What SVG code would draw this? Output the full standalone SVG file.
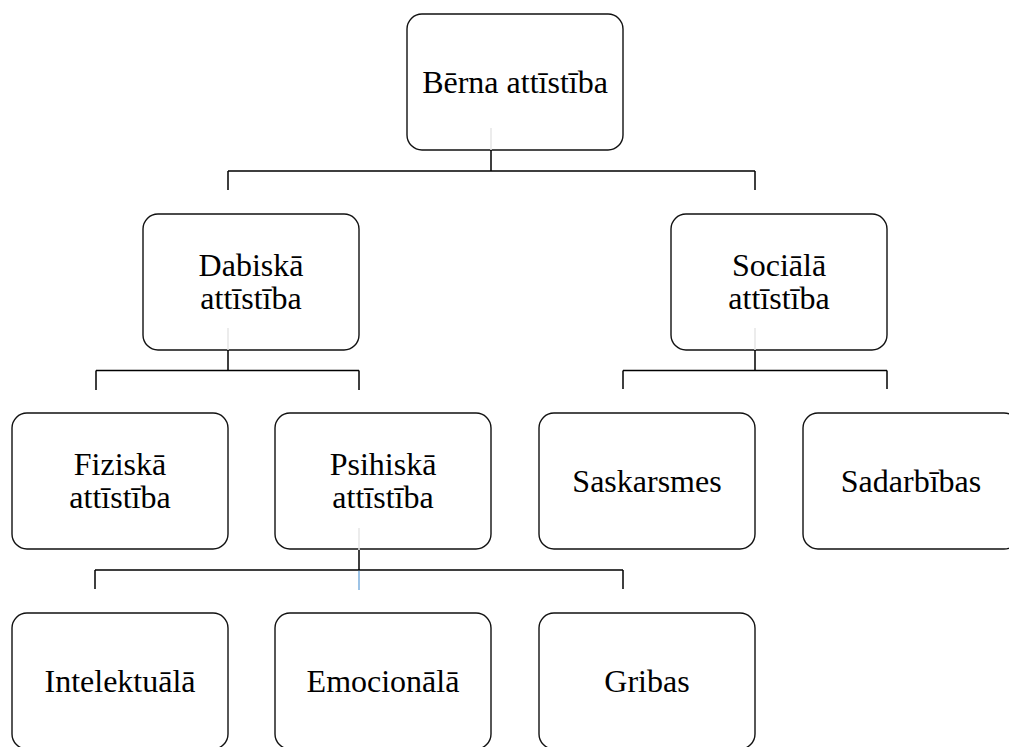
<svg xmlns="http://www.w3.org/2000/svg" width="1009" height="747" viewBox="0 0 1009 747">
<style>
.box{fill:#fff;stroke:#111;stroke-width:1.4}
.t{font-family:"Liberation Serif","Times New Roman",serif;font-size:32px;fill:#000;text-anchor:middle}
.c{stroke:#000;stroke-width:1.5;fill:none}
.g{stroke:#e6e6e6;stroke-width:1.5;fill:none}
.b{stroke:#5b9bd5;stroke-width:1.2;fill:none}
</style>
<rect width="1009" height="747" fill="#fff"/>
<g id="n-berna"><rect class="box" x="407" y="14" width="216" height="136" rx="15"/><text class="t" x="515" y="93">Bērna attīstība</text></g>
<g id="n-dabiska"><rect class="box" x="143" y="214" width="216" height="136" rx="15"/><text class="t" x="251" y="276">Dabiskā</text><text class="t" x="251" y="309">attīstība</text></g>
<g id="n-sociala"><rect class="box" x="671" y="214" width="216" height="136" rx="15"/><text class="t" x="779" y="276">Sociālā</text><text class="t" x="779" y="309">attīstība</text></g>
<g id="n-fiziska"><rect class="box" x="12" y="413" width="216" height="136" rx="15"/><text class="t" x="120" y="475">Fiziskā</text><text class="t" x="120" y="508">attīstība</text></g>
<g id="n-psihiska"><rect class="box" x="275" y="413" width="216" height="136" rx="15"/><text class="t" x="383" y="475">Psihiskā</text><text class="t" x="383" y="508">attīstība</text></g>
<g id="n-saskarsmes"><rect class="box" x="539" y="413" width="216" height="136" rx="15"/><text class="t" x="647" y="492">Saskarsmes</text></g>
<g id="n-sadarbibas"><rect class="box" x="803" y="413" width="216" height="136" rx="15"/><text class="t" x="911" y="492">Sadarbības</text></g>
<g id="n-intelektuala"><rect class="box" x="12" y="613" width="216" height="136" rx="15"/><text class="t" x="120" y="692">Intelektuālā</text></g>
<g id="n-emocionala"><rect class="box" x="275" y="613" width="216" height="136" rx="15"/><text class="t" x="383" y="692">Emocionālā</text></g>
<g id="n-gribas"><rect class="box" x="539" y="613" width="216" height="136" rx="15"/><text class="t" x="647" y="692">Gribas</text></g>
<g id="connectors">
<path class="g" d="M491 128V150M228 328V350M755 328V350M359 528V550"/>
<path class="c" d="M491 150V171M228 171H755M228 171V190M755 171V190"/>
<path class="c" d="M228 350V370.5M96 370.5H359M96 370.5V390M359 370.5V390"/>
<path class="c" d="M755 350V370.5M623 370.5H887M623 370.5V389M887 370.5V389"/>
<path class="c" d="M359 550V570M95 570H623M95 570V589M623 570V589"/>
<path class="b" d="M359 570.8V590"/>
</g>
</svg>
